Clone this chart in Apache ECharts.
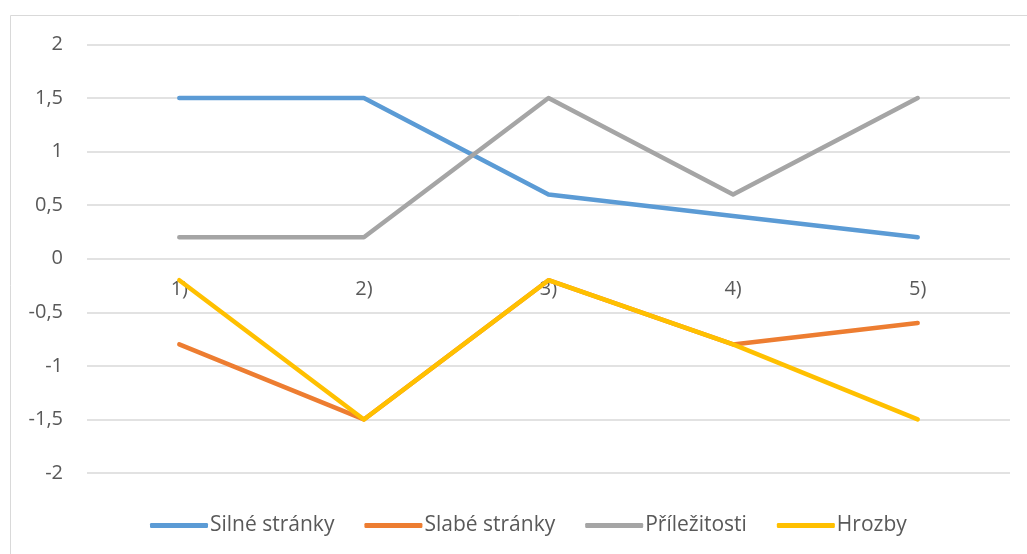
<!DOCTYPE html>
<html>
<head>
<meta charset="utf-8">
<script src="https://cdn.jsdelivr.net/npm/echarts@6/dist/echarts.min.js"></script>
<style>
html,body{margin:0;padding:0;background:#fff;}
#c{width:1027px;height:554px;}
</style>
</head>
<body>
<div id="c"></div>
<script>
const categories = ['1)', '2)', '3)', '4)', '5)'];
const silneStranky = [1.5, 1.5, 0.6, 0.4, 0.2];
const slabeStranky = [-0.8, -1.5, -0.2, -0.8, -0.6];
const prilezitosti = [0.2, 0.2, 1.5, 0.6, 1.5];
const hrozby = [-0.2, -1.5, -0.2, -0.8, -1.5];
const seriesNames = ['Silné stránky', 'Slabé stránky', 'Příležitosti', 'Hrozby'];
const colors = ['#5B9BD5', '#ED7D31', '#A5A5A5', '#FFC000'];

const chart = echarts.init(document.getElementById('c'), null, {renderer: 'canvas'});
const font = "Open Sans, Noto Sans, sans-serif";
const fmt = v => String(v).replace('.', ',');
function line(name, data, color) {
  return {
    name, type: 'line', data, symbol: 'none', smooth: false,
    lineStyle: {color, width: 4.5, cap: 'round', join: 'round'},
    itemStyle: {color},
    z: 3
  };
}
chart.setOption({
  animation: false,
  color: colors,
  graphic: [{
    type: 'rect', shape: {x: 10.5, y: 15.5, width: 1030, height: 560},
    style: {fill: 'none', stroke: '#D9D9D9', lineWidth: 1}, silent: true, z: -1
  }],
  grid: {left: 87, right: 17, top: 44.5, bottom: 81, containLabel: false},
  legend: {
    top: 510, left: 145,
    itemWidth: 58, itemHeight: 5, itemGap: 30,
    icon: 'roundRect',
    textStyle: {color: '#595959', fontSize: 21, fontFamily: font, padding: [0,0,0,-3]},
    data: seriesNames
  },
  xAxis: {
    type: 'category', data: categories, boundaryGap: true,
    offset: -214.5,
    axisLine: {show: false, onZero: false},
    axisTick: {show: false},
    axisLabel: {color: '#595959', fontSize: 20, fontFamily: font, margin: 21},
    splitLine: {show: false}
  },
  yAxis: {
    type: 'value', min: -2, max: 2, interval: 0.5,
    axisLine: {show: false}, axisTick: {show: false},
    axisLabel: {color: '#595959', fontSize: 20, fontFamily: font, margin: 24, formatter: fmt},
    splitLine: {lineStyle: {color: '#D9D9D9', width: 1.5}}
  },
  series: [
    line(seriesNames[0], silneStranky, colors[0]),
    line(seriesNames[1], slabeStranky, colors[1]),
    line(seriesNames[2], prilezitosti, colors[2]),
    line(seriesNames[3], hrozby, colors[3])
  ]
});
</script>
</body>
</html>
